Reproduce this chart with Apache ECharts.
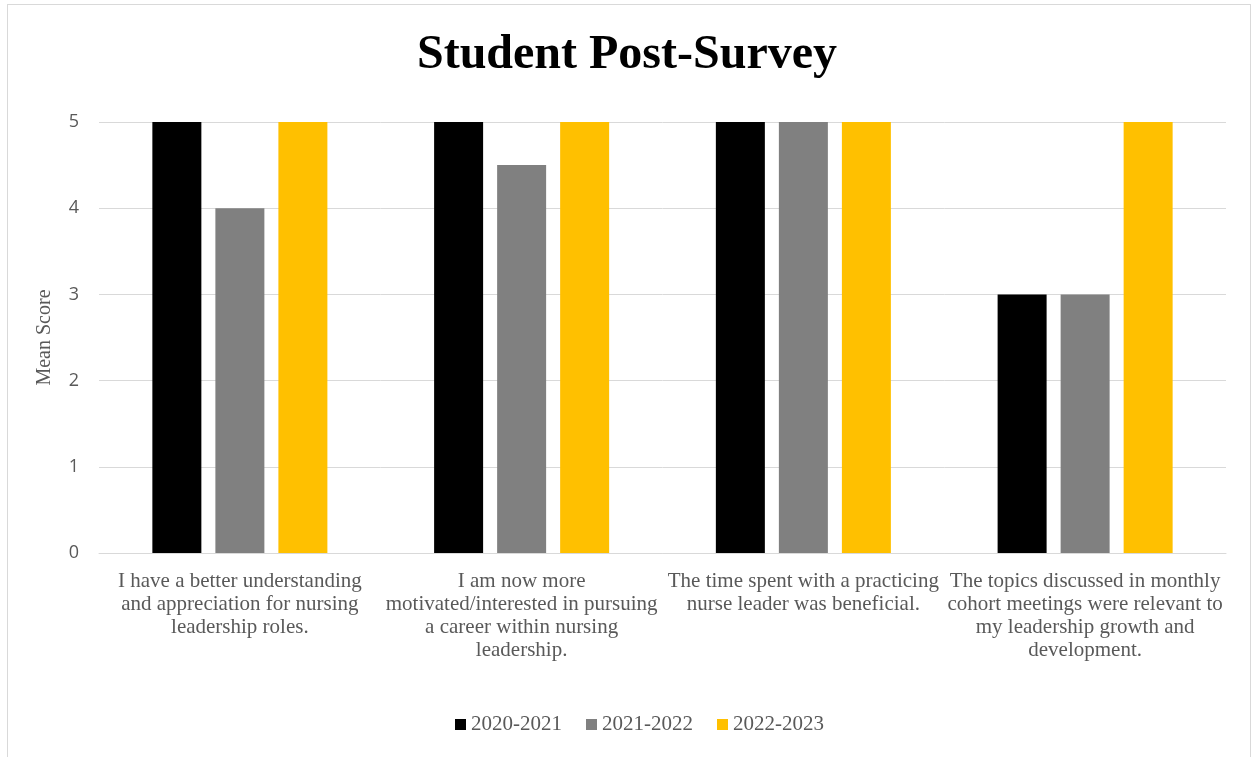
<!DOCTYPE html>
<html>
<head>
<meta charset="utf-8">
<script src="https://cdn.jsdelivr.net/npm/echarts@6/dist/echarts.min.js"></script>
<style>
  html, body { margin: 0; padding: 0; background: #fff; overflow: hidden; }
  #frame {
    position: absolute; left: 7px; top: 4px; width: 1244px; height: 800px;
    border: 1px solid #d9d9d9; box-sizing: border-box;
  }
  #chart { position: absolute; left: 0; top: 0; width: 1254px; height: 757px; }
</style>
</head>
<body>
<div id="frame"></div>
<div id="chart"></div>
<script>
const categories = [
  "I have a better understanding\nand appreciation for nursing\nleadership roles.",
  "I am now more\nmotivated/interested in pursuing\na career within nursing\nleadership.",
  "The time spent with a practicing\nnurse leader was beneficial.",
  "The topics discussed in monthly\ncohort meetings were relevant to\nmy leadership growth and\ndevelopment."
]
const seriesNames = ["2020-2021", "2021-2022", "2022-2023"]
const values2020 = [5, 5, 5, 3]
const values2021 = [4, 4.5, 5, 3]
const values2022 = [5, 5, 5, 5]
const colors = ["#000000", "#808080", "#FFC000"]

const chart = echarts.init(document.getElementById("chart"))
const serif = "'Liberation Serif', 'Times New Roman', serif"
const textGray = "#595959"

const option = {
  animation: false,
  color: colors,
  title: {
    text: "Student Post-Survey",
    left: "center",
    top: 27,
    textStyle: {
      fontFamily: serif,
      fontWeight: "bold",
      fontSize: 48,
      color: "#000"
    }
  },
  legend: {
    bottom: 17,
    left: 450,
    icon: "rect",
    itemWidth: 11,
    itemHeight: 11,
    itemGap: 24,
    textStyle: { fontFamily: serif, fontSize: 21, color: textGray },
    data: seriesNames
  },
  grid: { left: 99, right: 28, top: 122, bottom: 204, containLabel: false },
  xAxis: {
    type: "category",
    data: categories,
    axisLine: { lineStyle: { color: "#d9d9d9", width: 1 } },
    axisTick: { show: false },
    axisLabel: {
      interval: 0,
      margin: 17,
      fontFamily: serif,
      fontSize: 21,
      lineHeight: 23,
      color: textGray,
      align: "center"
    }
  },
  yAxis: {
    type: "value",
    min: 0,
    max: 5,
    interval: 1,
    name: "Mean Score",
    nameLocation: "middle",
    nameGap: 44,
    nameTextStyle: { fontFamily: serif, fontSize: 20, color: textGray },
    axisLine: { show: false },
    axisTick: { show: false },
    axisLabel: {
      margin: 20,
      fontFamily: "'Open Sans', 'Noto Sans', sans-serif",
      fontSize: 18,
      color: textGray
    },
    splitLine: { lineStyle: { color: "#d9d9d9", width: 1 } }
  },
  series: [
    { name: seriesNames[0], type: "bar", data: values2020, barWidth: 49, barGap: "28.6%" },
    { name: seriesNames[1], type: "bar", data: values2021, barWidth: 49, barGap: "28.6%" },
    { name: seriesNames[2], type: "bar", data: values2022, barWidth: 49, barGap: "28.6%" }
  ]
}
chart.setOption(option)
window.addEventListener("resize", () => chart.resize())
</script>
</body>
</html>
